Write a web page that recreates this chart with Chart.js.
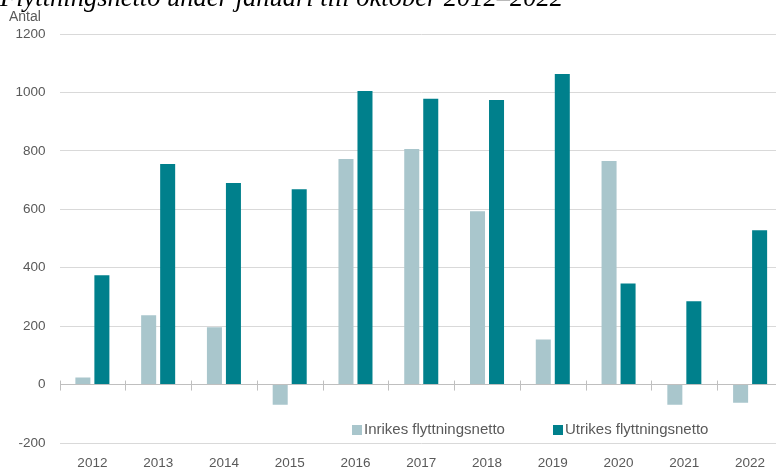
<!DOCTYPE html>
<html>
<head>
<meta charset="utf-8">
<script src="https://cdn.jsdelivr.net/npm/chart.js@4"></script>
<style>
  html, body { margin: 0; padding: 0; background: #fff; overflow: hidden; }
  #wrap { position: relative; width: 790px; height: 470px; }
</style>
</head>
<body>
<div id="wrap"><canvas id="chartMigration" width="790" height="470"></canvas></div>
<script>
// ── Data ─────────────────────────────────────
const TITLE   = 'Flyttningsnetto under januari till oktober 2012–2022';
const Y_LABEL = 'Antal';
const YEARS   = ['2012','2013','2014','2015','2016','2017','2018','2019','2020','2021','2022'];
const INRIKES = [24, 237, 196, -69, 772, 806, 593, 154, 765, -69, -62];
const UTRIKES = [374, 755, 690, 669, 1005, 978, 974, 1063, 346, 285, 528];
const SERIES  = ['Inrikes flyttningsnetto', 'Utrikes flyttningsnetto'];

const C_INR  = '#a9c6cc';
const C_UTR  = '#00808c';
const GRID_C = '#d9d9d9';
const TEXT_C = '#595959';
const FONT   = '"Liberation Sans", Arial, sans-serif';

// ── Extras: title, axis caption, inline legend, ticks on zero line ──
const extras = {
  id: 'extras',
  afterDraw(chart) {
    const { ctx, chartArea, scales } = chart;
    ctx.save();

    // cut-off italic title at the very top
    ctx.fillStyle = '#000';
    ctx.font = 'italic 26.5px "Liberation Serif", "Times New Roman", serif';
    ctx.textBaseline = 'alphabetic';
    ctx.textAlign = 'left';
    ctx.fillText(TITLE, 0, 6);

    // "Antal"
    ctx.fillStyle = TEXT_C;
    ctx.font = '14px ' + FONT;
    ctx.textBaseline = 'middle';
    ctx.fillText(Y_LABEL, 9, 17);

    // tick marks on the zero line at category boundaries
    const y0 = scales.y.getPixelForValue(0);
    const x = scales.x;
    const step = (chartArea.right - chartArea.left) / YEARS.length;
    ctx.strokeStyle = '#bfbfbf';
    ctx.lineWidth = 1;
    for (let i = 0; i <= YEARS.length; i++) {
      const px = Math.round(x.getPixelForValue(0) - step / 2 + i * step) + 0.5;
      ctx.beginPath();
      ctx.moveTo(px, y0 - 4);
      ctx.lineTo(px, y0 + 6);
      ctx.stroke();
    }

    // legend inside plot, lower right
    const items = [
      { label: SERIES[0], color: C_INR, x: 352 },
      { label: SERIES[1], color: C_UTR, x: 553 },
    ];
    const ly = 430;
    ctx.font = '15px ' + FONT;
    ctx.textBaseline = 'middle';
    items.forEach(it => {
      ctx.fillStyle = it.color;
      ctx.fillRect(it.x, ly - 5, 10, 10);
      ctx.fillStyle = TEXT_C;
      ctx.fillText(it.label, it.x + 12, ly);
    });

    ctx.restore();
  },
};

// ── Chart ────────────────────────────────────
new Chart(document.getElementById('chartMigration'), {
  type: 'bar',
  data: {
    labels: YEARS,
    datasets: [
      {
        label: SERIES[0],
        data: INRIKES,
        backgroundColor: C_INR,
        categoryPercentage: 0.578,
        barPercentage: 0.79,
      },
      {
        label: SERIES[1],
        data: UTRIKES,
        backgroundColor: C_UTR,
        categoryPercentage: 0.578,
        barPercentage: 0.79,
      },
    ],
  },
  options: {
    responsive: false,
    animation: false,
    layout: { padding: { top: 34, right: 7, bottom: 0, left: 0 } },
    plugins: {
      legend: { display: false },
      tooltip: { enabled: false },
    },
    scales: {
      x: {
        grid: { display: false, drawTicks: false },
        border: { display: false },
        ticks: { color: TEXT_C, font: { family: FONT, size: 13.5 }, padding: 12 },
        afterFit: s => { s.height = 27; },
      },
      y: {
        min: -200,
        max: 1200,
        grid: {
          color: ctx => (ctx.tick && ctx.tick.value === 0 ? '#bfbfbf' : GRID_C),
          drawTicks: false,
        },
        border: { display: false },
        ticks: {
          stepSize: 200,
          color: TEXT_C,
          font: { family: FONT, size: 13.5 },
          padding: 14,
          callback: v => String(v),
        },
        afterFit: s => { s.width = 59.5; },
      },
    },
  },
  plugins: [extras],
});
</script>
</body>
</html>
